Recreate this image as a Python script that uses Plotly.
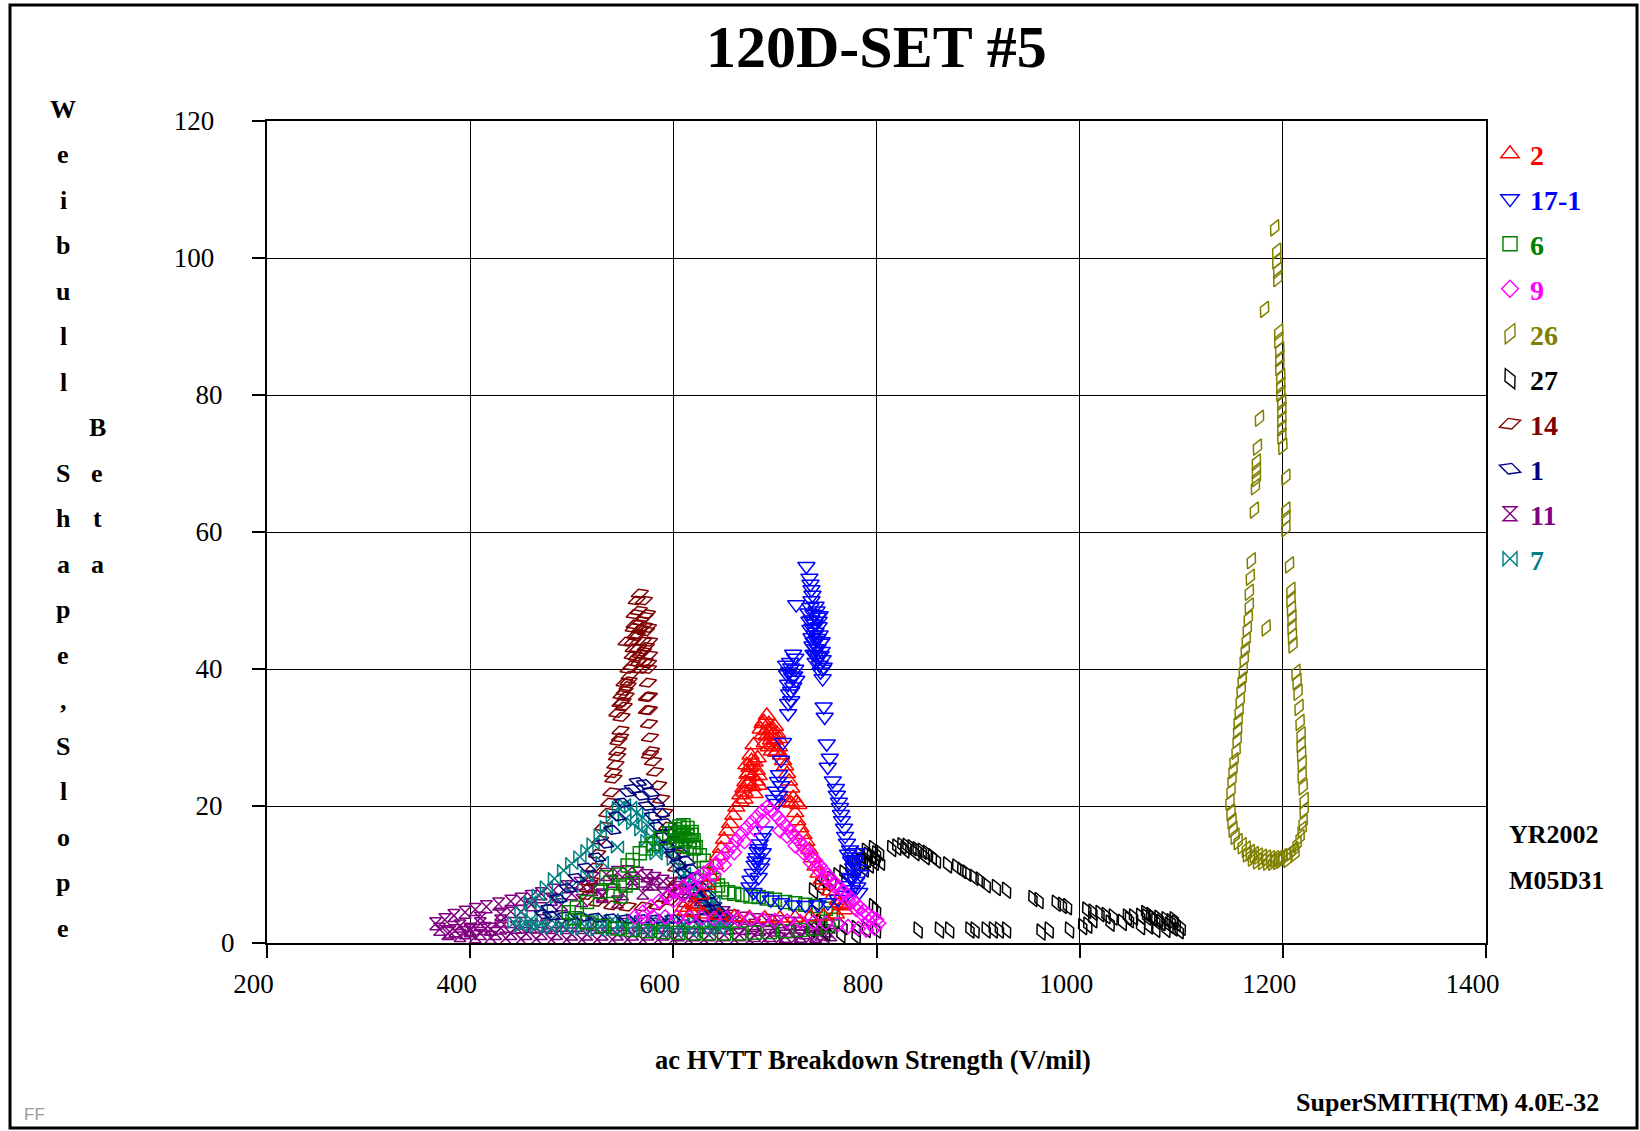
import plotly.graph_objects as go

# ---------------- data ----------------
names = ["2", "17-1", "6", "9", "26", "27", "14", "1", "11", "7"]
colors = ["#FF0000", "#0000FF", "#008000", "#FF00FF", "#808000",
          "#000000", "#800000", "#000080", "#800080", "#008080"]

s2_x = [612,620,627,633,637,641,644,647,650,653,656,659,662,666,669,671,673,675,677,679,670,674,678,682,684,680,683,676,686,689,692,694,696,698,700,702,704,697,701,706,708,710,712,714,716,718,712,716,721,723,720,722,725,728,731,734,737,740,743,746,750,754,758,762,766,769,764,770,760,748,735,720,705,690,675,660,645,630,618,610,622,
        672,676,680,684,674,678,682,688,692,696,700,690,694,698,702,688,692,704,666,670]
s2_y = [4.6,5.6,7.0,8.4,9.7,11.4,12.7,13.8,15.1,16.3,17.4,18.6,19.8,21.6,22.6,23.5,24.6,25.6,26.6,28.9,22.0,23.2,24.3,25.2,23.0,21.8,27.0,27.4,31.2,32.3,33.2,32.0,31.2,30.4,29.6,30.6,28.6,28.0,27.8,27.4,26.6,25.8,24.7,23.6,22.6,21.2,20.6,20.4,20.5,20.2,19.0,17.8,16.8,15.8,14.8,13.6,12.4,11.2,10.2,9.2,8.4,7.6,7.0,6.2,5.4,4.8,5.8,5.6,4.2,3.9,3.8,3.7,3.6,3.6,3.7,3.8,4.0,4.2,4.4,5.2,5.3,
        26.0,25.8,26.4,24.4,24.8,22.8,23.6,30.4,31.0,29.6,31.6,29.2,28.6,28.9,28.0,32.0,30.2,29.8,20.6,21.0]

s17_x = [731,734,735,736,737,736,721,735,740,733,738,742,734,739,743,735,740,744,736,741,745,737,742,746,738,743,747,740,744,748,745,747,718,711,716,720,712,717,721,713,718,714,716,713,713,748,749,708,751,754,752,706,704,703,706,701,704,699,702,757,760,761,763,764,765,766,768,769,771,774,776,775,777,778,780,776,781,783,772,779,782,690,688,685,683,682,680,678,676,675,686,684,688,679,686,696,706,718,730,742,752,762,770,
         737,738,739,740,742,741,744,746,747,745,736,739,743,714,719,715,720,716,774,778,780,784,771,776,681,684,687]
s17_y = [55.0,53.3,52.4,51.6,50.8,50.0,49.4,49.0,49.2,48.2,48.0,47.6,47.0,46.6,46.2,45.8,45.4,45.0,44.6,44.2,43.8,43.4,43.0,42.6,42.2,41.8,41.4,41.0,40.6,40.3,39.6,38.6,42.2,40.6,40.2,40.0,39.2,38.8,38.4,37.8,37.4,36.4,35.4,35.0,33.5,34.5,33.0,29.3,29.1,27.0,25.7,26.7,24.6,23.6,23.0,22.2,21.6,21.0,20.4,23.7,22.6,21.6,20.6,19.8,18.8,17.9,16.8,15.6,14.6,13.6,12.6,12.0,11.0,10.1,9.0,7.8,8.2,7.4,13.0,12.2,10.8,16.4,15.4,14.5,13.4,12.5,11.4,10.2,9.2,8.2,11.0,9.6,13.2,7.4,6.8,6.3,5.9,5.6,5.5,5.6,5.9,6.4,7.0,
         46.0,44.0,43.0,42.0,44.5,48.5,47.8,44.0,40.0,42.0,47.2,45.0,47.0,39.6,39.0,41.0,41.6,36.8,9.6,11.6,13.2,10.0,8.4,9.4,12.0,13.8,11.8]

s6_x = [497,505,515,528,538,534,547,555,560,567,573,580,588,596,602,606,610,614,618,608,612,604,616,620,622,626,630,633,636,640,644,648,654,660,668,676,684,692,700,710,720,730,740,750,755,757,752,740,725,710,695,680,665,650,635,620,605,590,575,560,545,530,515,503,553,560,548,541,
        606,610,614,618,602,609,616,620]
s6_y = [4.5,5.2,6.0,7.5,8.8,9.6,10.0,11.3,12.1,13.1,13.8,14.5,15.3,16.0,16.6,17.0,17.2,16.8,16.2,15.8,15.2,15.0,14.8,15.0,14.0,12.8,12.0,11.0,10.0,9.2,8.4,7.8,7.4,7.2,7.0,6.8,6.7,6.5,6.3,6.0,5.8,5.6,5.4,5.0,4.3,3.4,2.6,2.1,1.9,1.7,1.6,1.5,1.4,1.4,1.4,1.4,1.5,1.6,1.7,1.9,2.1,2.5,3.0,3.6,8.4,8.8,6.8,7.6,
        16.2,16.0,15.6,15.8,15.6,14.2,14.0,13.8]

s9_x = [562,570,578,586,594,602,610,617,624,630,636,642,648,653,658,662,667,672,677,682,687,692,696,700,704,708,712,716,720,724,728,732,736,740,744,748,752,756,760,764,768,772,776,780,784,788,792,796,800,802,798,790,782,772,762,750,738,725,712,700,688,676,664,652,640,628,616,604,592,580,570,
        600,610,620,630,640,650,660,670,680,688,705,712,720,728,735,742,750,758,765,772,780,786,792]
s9_y = [3.8,4.5,5.3,6.1,6.8,7.5,8.2,8.9,9.6,10.2,10.8,11.6,12.4,13.3,14.2,15.0,15.9,16.8,17.6,18.4,19.2,19.8,19.5,18.8,18.2,17.5,16.9,16.2,15.5,14.8,14.1,13.4,12.7,12.0,11.3,10.6,9.9,9.2,8.6,8.0,7.5,6.9,6.3,5.7,5.1,4.6,4.1,3.7,3.4,2.9,2.2,1.9,2.1,2.4,2.7,2.9,3.0,3.1,3.2,3.3,3.4,3.5,3.5,3.6,3.6,3.7,3.7,3.8,3.8,3.8,3.8,
        6.2,7.0,8.0,9.0,10.0,11.4,13.2,14.8,16.6,17.8,16.4,15.6,14.2,13.2,11.8,10.8,9.4,8.4,7.0,6.2,4.9,4.2,3.2]

s26_x = [1192,1194,1194,1195,1195,1182,1196,1196,1197,1197,1197,1198,1198,1198,1199,1199,1199,1199,1199,1200,1177,1175,1174,1174,1174,1173,1172,1203,1203,1203,1203,1206.6,1208,1208,1208.5,1209,1209,1209.5,1210,1213,1214,1215,1216,1217,1218,1218,1218.5,1219,1219,1220,1221,1221,1220,1219,1217,1214,1211,1208,1204,1200,1196,1192,1188,1184,1180,1176,1172,1168,1164,1160,1156,1153,1151,1150,1149,1148,1149,1150,1151,1152,1154,1155,1155.5,1156,1157,1158,1159,1160,1161,1162,1163,1164,1165,1166,1167,1167,1168,1169,1183.6,
         1185,1195,1205,1175,1165,1212,1190,1180,1198,1170]
s26_y = [104.4,101.0,99.6,98.2,97.0,92.5,89.2,88.0,86.6,85.3,84.0,82.7,81.4,80.2,79.0,77.8,76.5,75.2,74.0,72.5,76.6,72.4,70.2,69.0,67.8,66.6,63.2,68.0,63.2,62.0,60.5,55.2,51.5,50.2,48.8,47.5,46.2,44.8,43.5,39.5,38.2,36.6,34.4,32.2,30.4,29.0,27.6,26.2,24.5,22.8,20.8,19.4,17.6,16.6,15.4,14.4,13.6,13.2,12.8,12.6,12.4,12.3,12.3,12.4,12.5,12.7,12.9,13.2,13.7,14.2,14.8,15.6,16.6,17.8,19.0,20.6,22.2,23.8,25.2,26.6,28.0,29.6,31.0,32.4,33.8,35.4,37.0,38.4,39.8,41.4,42.8,44.2,45.8,47.4,49.2,51.2,53.4,55.8,46.0,
         11.8,11.9,12.2,12.0,13.0,13.0,11.8,11.9,12.1,12.4]

s27_x = [738,744,750,756,762,768,774,780,785,790,795,800,803,788,793,798,784,790,797,815,825,830,835,840,845,850,855,859,870,879,884,889,896,902,908,918,928,954,960,977,983,988,1007,1013,1020,1026,1033,1047,1053,1060,1066,1072,1078,1085,1090,1095,1100,1098,1092,1085,1080,1075,1068,1070,1065,1060,1049,1042,1030,1013,1008,1003,990,970,962,928,921,915,908,897,892,872,862,841,800,790,780,767,755,745,740,797,800,735,750,765,780,
         787,792,799,804,820,828,838,848,1080,1088,1093,1075]
s27_y = [7.6,8.2,8.8,9.3,9.8,10.2,10.8,11.2,11.8,12.2,12.6,13.0,13.2,10.8,11.4,11.8,12.8,13.4,13.8,13.8,14.2,14.1,13.9,13.6,13.4,13.1,12.6,12.1,11.4,11.1,10.6,10.2,9.6,9.2,8.5,8.1,7.7,6.5,6.2,5.8,5.5,5.3,4.8,4.5,4.3,4.0,3.8,3.8,3.8,3.9,3.8,3.7,3.6,3.4,3.1,2.9,2.3,1.8,2.2,2.0,3.0,2.0,2.5,4.0,4.3,2.4,3.4,3.0,2.9,3.4,2.6,2.4,1.9,1.9,1.6,1.9,1.9,1.9,1.9,1.9,1.9,1.9,1.9,1.9,1.9,2.0,2.1,2.4,2.6,3.0,4.4,5.3,4.8,2.0,1.5,1.2,1.0,
         12.0,12.8,12.4,11.8,14.0,13.6,13.2,12.6,3.0,2.6,3.4,3.2]

s14_x = [515,525,540,555,570,585,597,603,604,603,601,598,594,591,588,585,582,580,578,577,576,576,576,575,575,576,576,575,574,571,567,564,562,561,560,560,559,557,555,553,551,549,548,546,545,543,541,539,537,535,531,528,525,522,518,516,563,565,570,572,568,570,573,566,569,566,554,547.5,544.6,540.6,574,574,577,556,552,550,
         562,564,567,571,573,561,564,568,572,575,548,552,556,545,549]
s14_y = [7.0,6.0,5.5,5.3,5.3,5.5,6.2,7.5,9.0,11.0,13.0,15.0,17.0,19.0,21.0,23.0,25.0,26.5,28.0,30.0,32.0,34.0,36.0,38.0,40.0,42.0,44.0,46.0,48.0,50.0,51.0,50.0,48.0,46.0,44.0,42.0,40.5,39.0,37.5,36.0,34.5,33.0,31.0,29.5,28.0,26.0,24.0,22.0,20.5,19.0,17.0,15.0,13.0,11.0,9.0,8.0,45.0,43.0,44.0,41.0,47.0,42.5,45.5,48.5,40.0,41.0,44.0,30.0,27.2,24.8,35.9,34.0,27.5,38.2,36.8,35.2,
         46.5,44.8,45.8,46.2,43.2,43.0,41.8,42.2,47.6,40.8,35.0,38.0,40.0,33.6,36.2]

s1_x = [565,572,578,583,588,593,598,603,608,613,618,623,628,633,638,643,648,651,560,568,574,580,585,590,595,600,605,610,615,620,625,630,635,640,630,615,600,585,570,555,540,525,510,495,480,472,478,487,496,505,515,525,533,540,545,550,555]
s1_y = [23.5,23.2,22.0,20.5,19.0,17.5,16.0,14.5,13.2,12.0,10.8,9.5,8.2,7.0,6.0,5.0,4.3,3.8,22.5,21.5,20.0,18.5,17.0,15.5,14.2,12.8,11.5,10.2,9.0,7.8,6.8,5.8,5.0,4.2,3.7,3.6,3.5,3.5,3.5,3.5,3.6,3.7,3.8,3.9,4.0,4.2,5.0,6.5,8.0,9.5,11.0,12.5,14.5,16.5,18.5,20.5,22.0]

s11_x = [366,375,384,395,405,416,428,440,450,460,470,482,495,508,521,534,545,555,565,574,582,590,598,606,614,620,626,634,642,650,659,670,682,692,704,715,725,735,744,751,755,748,735,720,705,690,675,660,645,630,615,600,585,570,555,540,525,510,495,480,465,450,435,420,405,390,378,370,530,545,520,560,575,390,410,430,400,420,
         385,400,415,430,445,460,475,490,505,520,535,550,565,580,595,610,625,640,655,670,685,700,715,730,745,
         410,430,450,470,490,510,530,550,570,590,610,630,650,
         380,395,410,425,440,455,470,485,500,515,530,545,560,575,590,605,620,635,650,665,680,695,710,725,740,
         440,460,480,500,520,540,560,580,600,620,640,660,680,700]
s11_y = [2.8,3.4,4.0,4.5,4.9,5.3,5.7,6.1,6.4,6.8,7.2,7.7,8.2,8.7,9.4,10.0,10.3,10.4,10.2,9.8,9.4,9.0,8.6,8.1,7.5,6.9,6.3,5.6,5.0,4.4,3.9,3.6,3.4,3.3,3.1,2.9,2.8,2.5,2.2,1.8,1.2,0.8,0.7,0.6,0.6,0.5,0.5,0.5,0.5,0.5,0.5,0.5,0.5,0.5,0.5,0.5,0.5,0.5,0.5,0.5,0.6,0.6,0.7,0.8,0.9,1.1,1.4,2.0,7.0,6.0,7.8,8.8,8.6,2.5,2.8,3.2,1.8,2.0,
         1.8,2.0,2.1,2.2,2.3,2.4,2.5,2.6,2.6,2.7,2.7,2.7,2.7,2.7,2.6,2.5,2.4,2.3,2.2,2.1,2.0,1.9,1.7,1.5,1.3,
         3.6,4.2,4.6,5.0,5.6,6.2,6.8,7.2,7.3,7.0,6.2,5.0,3.6,
         1.6,1.5,1.4,1.4,1.4,1.4,1.4,1.4,1.3,1.3,1.3,1.3,1.3,1.3,1.3,1.2,1.2,1.2,1.2,1.2,1.1,1.1,1.0,1.0,1.0,
         4.6,5.6,6.4,7.2,8.2,9.0,9.4,8.6,7.6,6.0,4.6,3.0,2.6,2.4]

s7_x = [443,450,459,467,475,483,492,500,508,515,521,528,534,540,546,552,558,564,570,575,578,580,583,588,593,600,606,611,616,621,626,631,636,641,646,650,645,630,615,600,585,570,555,540,525,510,495,480,465,450,460,480,500,520,540,560,580,600,620,640,552,560,568,574,630,640,635,
        455,470,490,510,530,550,570,590,610,630,648,470,485,500,515,530,545]
s7_y = [3.0,4.5,6.0,7.0,8.2,9.4,10.6,11.6,12.6,13.5,14.5,15.8,17.0,18.5,19.8,20.2,19.8,19.0,18.3,17.0,15.5,14.0,13.0,13.8,13.5,12.2,11.1,10.2,9.2,8.2,7.2,6.2,5.2,4.2,3.3,2.6,2.0,1.8,1.8,1.8,1.8,1.8,1.8,1.9,1.9,2.0,2.1,2.2,2.3,2.5,3.4,3.4,3.4,3.4,3.4,3.4,3.4,3.4,3.4,3.4,18.0,17.4,16.5,15.0,4.5,6.0,8.0,
        2.8,2.8,2.8,2.8,2.8,2.8,2.8,2.8,2.8,2.8,2.8,5.0,6.6,8.2,9.8,11.8,14.0]

series_x = [s2_x, s17_x, s6_x, s9_x, s26_x, s27_x, s14_x, s1_x, s11_x, s7_x]
series_y = [s2_y, s17_y, s6_y, s9_y, s26_y, s27_y, s14_y, s1_y, s11_y, s7_y]

x_ticks = [200, 400, 600, 800, 1000, 1200, 1400]
y_ticks = [0, 20, 40, 60, 80, 100, 120]

# ---------------- styles ----------------
symbols = ["triangle-up-open", "triangle-down-open", "square-open", "diamond-open",
           "diamond-tall-open", "diamond-tall-open", "diamond-wide-open",
           "diamond-wide-open", "hourglass-open", "bowtie-open"]
sizes = [15, 15, 13, 11, 13, 13, 13, 13, 12, 12]
legend_sizes = [16, 16, 14, 13, 16, 16, 16, 16, 14, 14]
angles = [0, 0, 0, 0, 25, -25, -18, 18, 0, 0]
draw_order = [8, 5, 4, 6, 9, 7, 2, 0, 1, 3]

SERIF = "Liberation Serif"
W, H = 1640, 1131
L, T = 267, 121
PW, PH = 1219, 822
R, B = W - L - PW, H - T - PH


def xp(px):
    return (px - L) / PW


def yp(py):
    return (T + PH - py) / PH


fig = go.Figure()
for i in draw_order:
    fig.add_trace(go.Scatter(
        x=series_x[i], y=series_y[i], mode="markers",
        name=names[i], showlegend=False,
        marker=dict(symbol=symbols[i], size=sizes[i], color=colors[i],
                    angle=angles[i], line=dict(width=1.5, color=colors[i])),
        hoverinfo="x+y+name"))

# legend entries (no data points; only the key)
for i in range(len(names)):
    fig.add_trace(go.Scatter(
        x=[None], y=[None], mode="markers",
        name="<b><span style='color:%s'>%s</span></b>" % (colors[i], names[i]),
        legendgroup=names[i], legendrank=i + 1, showlegend=True,
        marker=dict(symbol=symbols[i], size=legend_sizes[i], color=colors[i],
                    angle=angles[i], line=dict(width=1.4, color=colors[i]))))

axis_common = dict(showgrid=True, gridcolor="#000000", gridwidth=1,
                   showline=True, linecolor="#000000", linewidth=2, mirror=True,
                   ticks="outside", ticklen=13, tickwidth=1.5, tickcolor="#000000",
                   zeroline=False, tickfont=dict(family=SERIF, size=27, color="#000000"))

nb = "\u00a0"
thin = "\u2009"
ypad = {1: "", 2: nb + thin, 3: nb * 3}
fig.update_layout(
    width=W, height=H,
    margin=dict(l=L, r=R, t=T, b=B),
    paper_bgcolor="white", plot_bgcolor="white",
    xaxis=dict(range=[200, 1400], tickmode="array", tickvals=x_ticks,
               ticktext=[str(v) + nb * 4 for v in x_ticks],
               ticklabelstandoff=3, **axis_common),
    yaxis=dict(range=[0, 120], tickmode="array", tickvals=y_ticks,
               ticktext=[str(v) + ypad[len(str(v))] for v in y_ticks],
               ticklabelstandoff=12, **axis_common),
    showlegend=True,
    legend=dict(x=xp(1490), xanchor="left", y=yp(129), yanchor="top",
                font=dict(family=SERIF, size=28), tracegroupgap=5.6,
                itemsizing="trace", bgcolor="rgba(0,0,0,0)", borderwidth=0),
)

# outer frame
fig.add_shape(type="rect", xref="paper", yref="paper",
              x0=xp(10), x1=xp(1637), y0=yp(1128), y1=yp(5),
              line=dict(color="#000000", width=3), layer="below")

ann = []
ann.append(dict(text="<b>120D-SET #5</b>", x=xp(876), y=yp(47),
                font=dict(family=SERIF, size=60, color="#000000")))
ann.append(dict(text="<b>ac HVTT Breakdown Strength (V/mil)</b>", x=xp(873), y=yp(1060),
                font=dict(family=SERIF, size=26.5, color="#000000")))
ann.append(dict(text="<b>YR2002</b>", x=xp(1507), y=yp(834), xanchor="left",
                font=dict(family=SERIF, size=26, color="#000000")))
ann.append(dict(text="<b>M05D31</b>", x=xp(1507), y=yp(880), xanchor="left",
                font=dict(family=SERIF, size=26, color="#000000")))
ann.append(dict(text="<b>SuperSMITH(TM) 4.0E-32</b>", x=xp(1601), y=yp(1102), xanchor="right",
                font=dict(family=SERIF, size=26, color="#000000")))
ann.append(dict(text="FF", x=xp(22), y=yp(1114), xanchor="left",
                font=dict(family="Liberation Sans", size=17, color="#9a9a9a")))

ylabel_letters = list("Weibull") + [""] + list("Shape,Slope")
for k, ch in enumerate(ylabel_letters):
    if ch:
        ann.append(dict(text="<b>%s</b>" % ch, x=xp(63), y=yp(109 + 45.5 * k),
                        font=dict(family=SERIF, size=26, color="#000000")))
for k, ch in enumerate("Beta"):
    ann.append(dict(text="<b>%s</b>" % ch, x=xp(97), y=yp(109 + 45.5 * (k + 7)),
                    font=dict(family=SERIF, size=26, color="#000000")))

for a in ann:
    a.setdefault("xanchor", "center")
    a.update(xref="paper", yref="paper", yanchor="middle", showarrow=False)
fig.update_layout(annotations=ann)

fig.write_html("out.html", config={"displayModeBar": False},
               post_script="document.body.style.margin='0';"
                           "document.body.style.overflow='hidden';")
